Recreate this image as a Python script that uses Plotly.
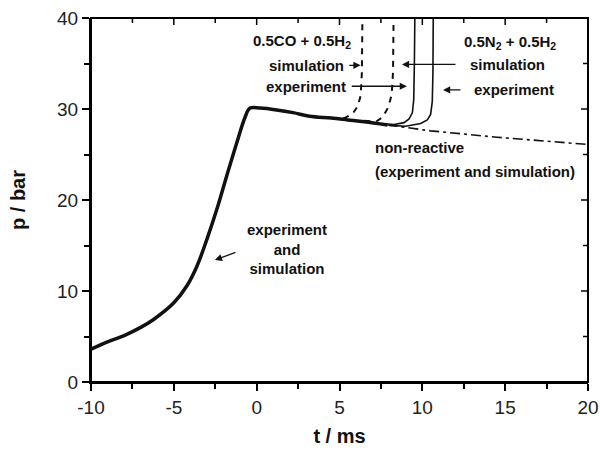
import plotly.graph_objects as go

# ---- data ----
main_t = [-10, -9, -8, -7, -6.2, -5, -4.2, -3.6, -3.0, -2.4, -1.8, -1.2, -0.7, -0.4, 0.2, 1.2, 2.2, 3.2, 4.5, 5.5, 6.5, 7.9]
main_p = [3.6, 4.4, 5.1, 6.0, 6.9, 8.7, 10.6, 12.75, 15.7, 19.0, 22.7, 26.3, 29.1, 30.1, 30.1, 29.9, 29.6, 29.2, 29.0, 28.8, 28.6, 28.25]

nonreact_t = [7.9, 10.5, 14.5, 20]
nonreact_p = [28.25, 27.6, 26.9, 26.1]

n2_sim_t = [7.5, 8.3, 8.9, 9.2, 9.4, 9.48, 9.52, 9.55]
n2_sim_p = [28.4, 28.3, 28.5, 28.9, 29.6, 31.0, 35.0, 40.5]

n2_exp_t = [8.0, 9.0, 9.9, 10.3, 10.5, 10.6, 10.64, 10.66]
n2_exp_p = [28.2, 28.1, 28.4, 28.8, 29.4, 30.8, 34.0, 40.5]

co_sim_t = [4.5, 5.3, 5.8, 6.1, 6.28, 6.35, 6.38]
co_sim_p = [29.0, 29.0, 29.5, 30.3, 31.5, 34.0, 39.4]

co_exp_t = [6.5, 7.2, 7.6, 7.95, 8.15, 8.23, 8.26]
co_exp_p = [28.7, 28.6, 29.1, 30.2, 31.6, 34.0, 39.4]

x_ticks = [-10, -5, 0, 5, 10, 15, 20]
x_minor = [-7.5, -2.5, 2.5, 7.5, 12.5, 17.5]
y_ticks = [0, 10, 20, 30, 40]
y_minor = [5, 15, 25, 35]

W, H = 600, 455
M = dict(l=91, r=12, t=18, b=73)
plot_w = W - M["l"] - M["r"]
plot_h = H - M["t"] - M["b"]

fig = go.Figure()
line_col = "#111111"

fig.add_trace(go.Scatter(x=co_sim_t, y=co_sim_p, mode="lines",
                         line=dict(color=line_col, width=2, dash="6px,6px")))
fig.add_trace(go.Scatter(x=co_exp_t, y=co_exp_p, mode="lines",
                         line=dict(color=line_col, width=2, dash="6px,6px")))
fig.add_trace(go.Scatter(x=n2_sim_t, y=n2_sim_p, mode="lines",
                         line=dict(color=line_col, width=1.6)))
fig.add_trace(go.Scatter(x=n2_exp_t, y=n2_exp_p, mode="lines",
                         line=dict(color=line_col, width=1.6)))
fig.add_trace(go.Scatter(x=nonreact_t, y=nonreact_p, mode="lines",
                         line=dict(color=line_col, width=1.6, dash="10px,4px,3px,4px")))
fig.add_trace(go.Scatter(x=main_t, y=main_p, mode="lines", line_shape="spline",
                         line=dict(color=line_col, width=3.5)))

font_ann = dict(family="Liberation Sans, Arial, sans-serif", size=15, color=line_col)

def txt(x, y, s, anchor="left"):
    fig.add_annotation(x=x, y=y, text="<b>" + s + "</b>", showarrow=False,
                       xanchor=anchor, yanchor="middle", font=font_ann, align="center")

def arrow(x0, y0, x1, y1):
    fig.add_annotation(x=x1, y=y1, ax=x0, ay=y0, xref="x", yref="y", axref="x", ayref="y",
                       text="", showarrow=True, arrowhead=2, arrowsize=1.1, arrowwidth=1.3,
                       arrowcolor=line_col)

txt(5.8, 37.4, "0.5CO + 0.5H<sub>2</sub>", "right")
txt(5.4, 34.8, "simulation", "right")
txt(5.5, 32.5, "experiment", "right")
arrow(5.5, 34.8, 6.27, 34.8)
arrow(5.65, 32.5, 9.07, 32.5)

txt(12.39, 37.3, "0.5N<sub>2</sub> + 0.5H<sub>2</sub>")
txt(12.76, 34.9, "simulation")
txt(13.0, 32.1, "experiment")
arrow(12.09, 34.9, 8.77, 34.9)
arrow(12.39, 32.1, 11.25, 32.1)

txt(7.02, 25.8, "non-reactive")
txt(7.02, 23.1, "(experiment and simulation)")

txt(1.83, 14.6, "experiment<br>and<br>simulation", "center")
arrow(-1.19, 14.3, -2.52, 13.4)

# frame around the plot area (paper coords = plot area)
fig.add_shape(type="rect", xref="paper", yref="paper", x0=0, x1=1, y0=0, y1=1,
              line=dict(color="#000000", width=2), fillcolor="rgba(0,0,0,0)", layer="above")
# inward ticks on top and right edges (mirroring the axis ticks)
for v in x_ticks[1:-1] + x_minor:
    ln = 7 if v in x_ticks else 5
    fig.add_shape(type="line", xref="x", yref="paper", x0=v, x1=v, y0=1, y1=1 - ln / plot_h,
                  line=dict(color="#000000", width=1.5), layer="above")
for v in y_ticks[1:-1] + y_minor:
    ln = 7 if v in y_ticks else 5
    fig.add_shape(type="line", xref="paper", yref="y", x0=1, x1=1 - ln / plot_w, y0=v, y1=v,
                  line=dict(color="#000000", width=1.5), layer="above")

tick_font = dict(family="Liberation Sans, Arial, sans-serif", size=19, color="#222222")
title_font = dict(family="Liberation Sans, Arial, sans-serif", size=20, color=line_col)

common = dict(showgrid=False, zeroline=False, automargin=False, tickcolor="#000000", tickwidth=1.5)

fig.update_layout(
    width=W, height=H,
    margin=dict(**M, autoexpand=False),
    paper_bgcolor="white", plot_bgcolor="white",
    showlegend=False,
    xaxis=dict(range=[-10, 20], tickmode="array", tickvals=x_ticks, ticktext=[str(v) for v in x_ticks],
               ticks="outside", ticklen=7,
               minor=dict(tickmode="array", tickvals=x_minor, ticks="outside", ticklen=5,
                          tickwidth=1.5, tickcolor="#000000"),
               showline=True, linecolor="#000000", linewidth=2,
               tickfont=tick_font,
               title=dict(text="<b>t / ms</b>", font=title_font, standoff=12), **common),
    yaxis=dict(range=[0, 40], tickmode="array", tickvals=y_ticks, ticktext=[str(v) for v in y_ticks],
               ticks="outside", ticklen=7,
               minor=dict(tickmode="array", tickvals=y_minor, ticks="outside", ticklen=5,
                          tickwidth=1.5, tickcolor="#000000"),
               showline=True, linecolor="#000000", linewidth=2,
               tickfont=tick_font,
               title=dict(text="<b>p / bar</b>", font=title_font, standoff=26), **common),
)

fig.write_html("out.html")
